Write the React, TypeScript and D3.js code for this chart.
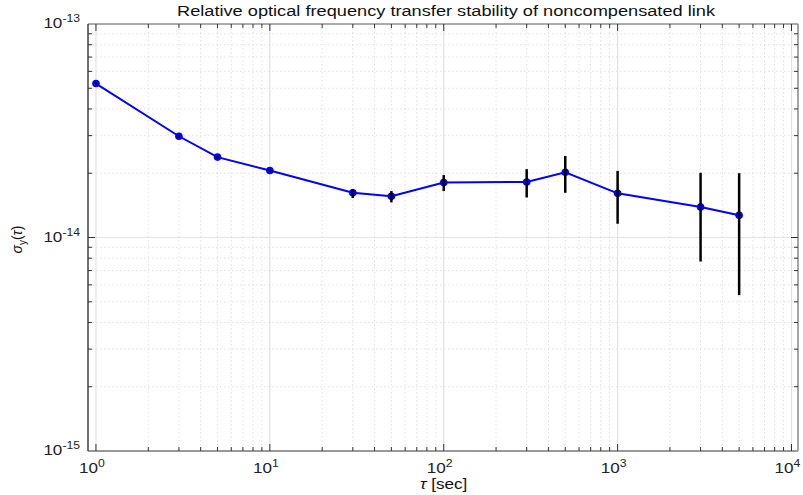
import React, { useEffect, useRef } from "react";
import * as d3 from "d3";

const tau = [1, 3, 5, 10, 30, 50, 100, 300, 500, 1000, 3000, 5000];
const sigma = [5.26e-14, 2.98e-14, 2.38e-14, 2.06e-14, 1.62e-14, 1.56e-14, 1.81e-14, 1.82e-14, 2.02e-14, 1.61e-14, 1.39e-14, 1.27e-14];
const errHigh = [5.32e-14, 3.02e-14, 2.41e-14, 2.09e-14, 1.68e-14, 1.65e-14, 1.96e-14, 2.09e-14, 2.41e-14, 2.05e-14, 2.01e-14, 2.0e-14];
const errLow = [5.2e-14, 2.94e-14, 2.35e-14, 2.03e-14, 1.53e-14, 1.46e-14, 1.65e-14, 1.54e-14, 1.62e-14, 1.16e-14, 7.72e-15, 5.37e-15];
const xDecades = [0, 1, 2, 3, 4];
const yDecades = [-15, -14, -13];

const App = () => {
  const svgRef = useRef<SVGSVGElement>(null);

  useEffect(() => {
    const width = 803, height = 495;
    const left = 88, right = 798, top = 24, bottom = 451;
    const svg = d3.select(svgRef.current);
    svg.selectAll("*").remove();
    svg.attr("width", width).attr("height", height)
      .style("position", "absolute").style("left", 0).style("top", 0)
      .style("font-family", "'Liberation Sans', Arial, sans-serif");

    const x = d3.scaleLog().domain([0.9, 10900]).range([left, right]);
    const y = d3.scaleLog().domain([1e-15, 1e-13]).range([bottom, top]);

    svg.append("rect").attr("width", width).attr("height", height).attr("fill", "#fff");

    const xMinor: number[] = [];
    for (let d = 0; d < 4; d++) for (let k = 2; k <= 9; k++) xMinor.push(k * Math.pow(10, d));
    xMinor.push(1e4);
    const yMinor: number[] = [];
    for (let d = -15; d < -13; d++) for (let k = 2; k <= 9; k++) yMinor.push(k * Math.pow(10, d));

    const grid = svg.append("g");
    // minor grid
    xMinor.filter(v => !xDecades.includes(Math.log10(v))).forEach(v => {
      grid.append("line").attr("x1", x(v)).attr("x2", x(v)).attr("y1", top).attr("y2", bottom)
        .attr("stroke", "#d8d8d8").attr("stroke-width", 0.8).attr("stroke-dasharray", "1.5,2.5");
    });
    yMinor.forEach(v => {
      grid.append("line").attr("x1", left).attr("x2", right).attr("y1", y(v)).attr("y2", y(v))
        .attr("stroke", "#d8d8d8").attr("stroke-width", 0.8).attr("stroke-dasharray", "1.5,2.5");
    });
    // major grid
    xDecades.forEach(d => {
      grid.append("line").attr("x1", x(10 ** d)).attr("x2", x(10 ** d)).attr("y1", top).attr("y2", bottom)
        .attr("stroke", "#e2e2e2").attr("stroke-width", 1.2);
    });
    grid.append("line").attr("x1", left).attr("x2", right).attr("y1", y(1e-14)).attr("y2", y(1e-14))
      .attr("stroke", "#e2e2e2").attr("stroke-width", 1.2);

    // axes frame
    svg.append("line").attr("x1", left).attr("x2", right).attr("y1", top).attr("y2", top)
      .attr("stroke", "#555").attr("stroke-width", 1);
    svg.append("line").attr("x1", right).attr("x2", right).attr("y1", top).attr("y2", bottom)
      .attr("stroke", "#888").attr("stroke-width", 1.5);
    svg.append("line").attr("x1", left).attr("x2", right).attr("y1", bottom).attr("y2", bottom)
      .attr("stroke", "#999").attr("stroke-width", 2);
    svg.append("line").attr("x1", left).attr("x2", left).attr("y1", top).attr("y2", bottom)
      .attr("stroke", "#222").attr("stroke-width", 1.3);

    // ticks
    const ticks = svg.append("g").attr("stroke", "#333").attr("stroke-width", 1);
    xMinor.concat(xDecades.map(d => 10 ** d)).forEach(v => {
      const major = Number.isInteger(Math.log10(v));
      const len = major ? 7 : 4;
      ticks.append("line").attr("x1", x(v)).attr("x2", x(v)).attr("y1", bottom).attr("y2", bottom - len);
      ticks.append("line").attr("x1", x(v)).attr("x2", x(v)).attr("y1", top).attr("y2", top + len);
    });
    yMinor.concat([1e-14]).forEach(v => {
      const len = v === 1e-14 ? 7 : 4;
      ticks.append("line").attr("x1", left).attr("x2", left + len).attr("y1", y(v)).attr("y2", y(v));
      ticks.append("line").attr("x1", right).attr("x2", right - len).attr("y1", y(v)).attr("y2", y(v));
    });

    // tick labels (slightly stretched horizontally like the reference)
    xDecades.forEach(d => {
      const g = svg.append("g").attr("transform", `translate(${x(10 ** d) - 4}, ${bottom + 22}) scale(1.22, 1)`);
      const t = g.append("text").attr("text-anchor", "middle").attr("font-size", 14).attr("fill", "#222");
      t.append("tspan").text("10");
      t.append("tspan").attr("dy", -6).attr("font-size", 10).text(String(d));
    });
    yDecades.forEach(d => {
      const g = svg.append("g").attr("transform", `translate(${left - 8}, ${y(10 ** d) + 4}) scale(1.22, 1)`);
      const t = g.append("text").attr("text-anchor", "end").attr("font-size", 14).attr("fill", "#222");
      t.append("tspan").text("10");
      t.append("tspan").attr("dy", -6).attr("font-size", 10).text(String(d));
    });

    // title & labels
    svg.append("text").attr("x", 446).attr("y", 16).attr("text-anchor", "middle")
      .attr("font-size", 14).attr("fill", "#111")
      .attr("textLength", 538).attr("lengthAdjust", "spacingAndGlyphs")
      .text("Relative optical frequency transfer stability of noncompensated link");
    const xg = svg.append("g").attr("transform", `translate(${x(100)}, 489) scale(1.22, 1)`);
    const xl = xg.append("text").attr("text-anchor", "middle").attr("font-size", 14).attr("fill", "#111");
    xl.append("tspan").attr("font-style", "italic").text("τ");
    xl.append("tspan").text(" [sec]");
    const yl = svg.append("text").attr("transform", `translate(22, ${y(1e-14) + 2}) rotate(-90)`)
      .attr("text-anchor", "middle").attr("font-size", 14).attr("fill", "#111");
    yl.append("tspan").attr("font-style", "italic").text("σ");
    yl.append("tspan").attr("dy", 4).attr("font-size", 10).text("y");
    yl.append("tspan").attr("dy", -4).text("(");
    yl.append("tspan").attr("font-style", "italic").text("τ");
    yl.append("tspan").text(")");

    // data line
    const pts = tau.map((t, i) => [t, sigma[i]] as [number, number]);
    svg.append("path").datum(pts)
      .attr("d", d3.line<[number, number]>().x(d => x(d[0])).y(d => y(d[1])))
      .attr("fill", "none").attr("stroke", "#0000ff").attr("stroke-width", 2);

    svg.append("g").selectAll("circle").data(pts).enter().append("circle")
      .attr("cx", d => x(d[0])).attr("cy", d => y(d[1])).attr("r", 3.8).attr("fill", "#0000ff");

    svg.append("g").selectAll("line").data(tau).enter().append("line")
      .attr("x1", d => x(d)).attr("x2", d => x(d))
      .attr("y1", (d, i) => y(errHigh[i])).attr("y2", (d, i) => y(errLow[i]))
      .attr("stroke", "#000").attr("stroke-width", 2.5);
  }, []);

  return <svg ref={svgRef}></svg>;
};

export default App;
